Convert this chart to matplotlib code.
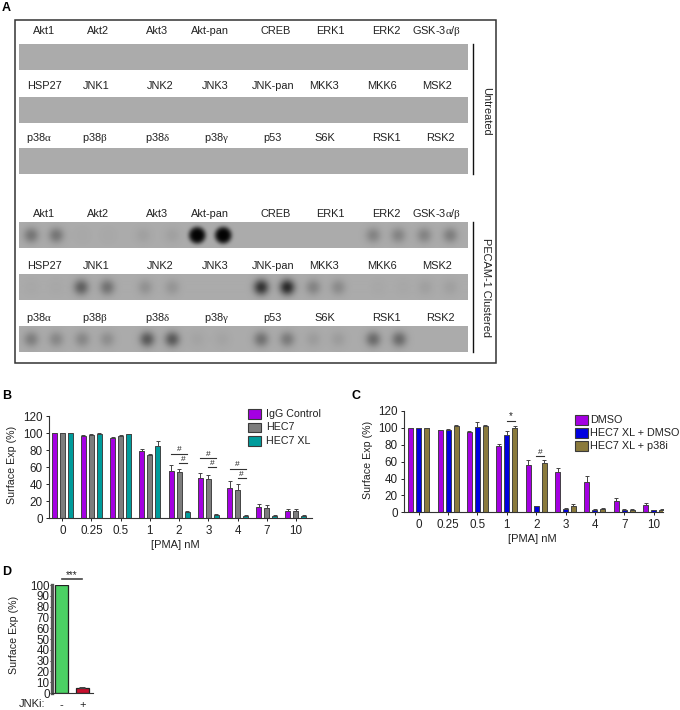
import numpy as np
import matplotlib
matplotlib.use('Agg')
import matplotlib.pyplot as plt
from matplotlib.patches import Rectangle

plt.rcParams['font.family'] = ['Liberation Sans', 'DejaVu Sans']
# greek letters of the blot labels are serif in the original
plt.rcParams['mathtext.fontset'] = 'custom'
plt.rcParams['mathtext.cal'] = 'Liberation Serif'
plt.rcParams['mathtext.rm'] = 'Liberation Sans'

row_labels = [
    ['Akt1', 'Akt2', 'Akt3', 'Akt-pan', 'CREB', 'ERK1', 'ERK2', r'GSK-3$\mathcal{\alpha}$/$\mathcal{\beta}$'],
    ['HSP27', 'JNK1', 'JNK2', 'JNK3', 'JNK-pan', 'MKK3', 'MKK6', 'MSK2'],
    [r'p38$\mathcal{\alpha}$', r'p38$\mathcal{\beta}$', r'p38$\mathcal{\delta}$', r'p38$\mathcal{\gamma}$',
     'p53', 'S6K', 'RSK1', 'RSK2'],
]

# spot darkness, PECAM-1 clustered membrane, two dots per target
clustered_row1 = [.3, .3, .02, .02, .06, .06, 1.0, 1.0, 0, 0, 0, 0, .22, .22, .22, .25]
clustered_row2 = [.02, .02, .42, .32, .14, .12, 0, 0, .68, .74, .22, .18, .02, .02, .06, .06]
clustered_row3 = [.25, .2, .2, .16, .46, .46, .04, .04, .32, .27, .08, .08, .36, .36, 0, 0]

doses = ['0', '0.25', '0.5', '1', '2', '3', '4', '7', '10']

b_igg = [100, 97, 95, 79, 56, 48, 36, 13, 9]
b_igg_err = [0, 1, 1, 2.5, 6.5, 5, 7.5, 3.5, 1.5]
b_hec7 = [100, 98, 97, 74, 54, 46, 33, 12, 9]
b_hec7_err = [0, 1, 1, 1.5, 4, 5, 7, 3.5, 1.5]
b_xl = [100, 99, 99, 85, 7, 4, 3, 3, 3]
b_xl_err = [0, .8, .7, 6, 1.5, 1, .8, .7, .7]

c_dmso = [100, 97, 95, 79, 56, 48, 36, 13, 9]
c_dmso_err = [0, .8, 1, 2.5, 6.5, 5, 7, 3.5, 1.5]
c_xl = [100, 97, 101, 92, 7, 4, 3, 3, 2.5]
c_xl_err = [0, 1.5, 6, 4, 1, .8, 1, .8, .6]
c_p38 = [100, 102, 102, 100, 58, 8, 4, 3, 3]
c_p38_err = [0, 1, 1.5, 2, 4, 1.5, 1, .7, .6]

d_labels = ['-', '+']
d_vals = [100, 5]
d_err = [0, .8]

W, H = 680, 710
TXT = '#222222'
EDGE = '#3a3a3a'

label_x = [[44, 98, 157, 210, 276, 330, 386, 437],
           [44, 96, 160, 215, 273, 324, 382, 437],
           [39, 95, 158, 216, 272, 325, 386, 440]]
spot_x = [[31, 56, 82, 108, 143, 172, 197, 223, 250, 276, 305, 335, 373, 398, 424, 450],
          [31, 56, 81, 107, 145, 172, 197, 223, 261, 287, 313, 338, 378, 403, 425, 450],
          [31, 56, 82, 107, 147, 172, 197, 222, 261, 287, 313, 338, 373, 399, 425, 450]]

fig = plt.figure(figsize=(W / 100, H / 100), dpi=100, facecolor='white')


def px_axes(x0, x1, y_top, y_bottom):
    return fig.add_axes([x0 / W, 1 - y_bottom / H, (x1 - x0) / W, (y_bottom - y_top) / H])


page = fig.add_axes([0, 0, 1, 1], zorder=5)
page.patch.set_alpha(0)
page.axis('off')


def blot(top, bottom, xs=None, dark=None):
    xx, yy = np.meshgrid(np.arange(19, 468, .5), np.arange(top, bottom, .5))
    img = np.full(xx.shape, 0.67)
    if dark is not None:
        mid = (top + bottom) / 2
        for x, d in zip(xs, dark):
            r = np.hypot(xx - x, yy - mid)
            if d > .9:
                img *= 1 - .98 * np.exp(-(r / 8.5) ** 4)
            else:
                img *= 1 - d * np.exp(-(r / 7.5) ** 2.2)
    page.imshow(img, cmap='gray', vmin=0, vmax=1, extent=(19, 468, bottom, top),
                aspect='auto', interpolation='bilinear')


for i, (top, bottom) in enumerate([(44, 70), (97, 123), (148, 174)]):
    blot(top, bottom)
for i, (top, bottom, dark) in enumerate([(222, 248, clustered_row1),
                                         (275, 300.5, clustered_row2),
                                         (326, 352, clustered_row3)]):
    blot(top, bottom, spot_x[i], dark)

for ys in ([31, 86, 138], [214, 266, 318]):
    for y, names, xs in zip(ys, row_labels, label_x):
        for name, x in zip(names, xs):
            page.text(x, y, name, fontsize=7.9, color=TXT, ha='center', va='center')

page.add_patch(Rectangle((15, 20), 481, 343, fill=False, ec='#333333', lw=1.1))
page.plot([473, 473], [44, 174], color='#111111', lw=1)
page.plot([473, 473], [222, 352], color='#111111', lw=1)
page.text(486, 111, 'Untreated', rotation=270, fontsize=7.9, color=TXT, ha='center', va='center')
page.text(486, 288, 'PECAM-1 Clustered', rotation=270, fontsize=7.9, color=TXT, ha='center', va='center')

page.text(2, 8, 'A', fontsize=9, fontweight='bold', ha='left', va='center')
page.text(2, 396, 'B', fontsize=9, fontweight='bold', ha='left', va='center')
page.text(352, 396, 'C', fontsize=9, fontweight='bold', ha='left', va='center')
page.text(2, 572, 'D', fontsize=9, fontweight='bold', ha='left', va='center')


def style_axes(ax):
    ax.spines['top'].set_visible(False)
    ax.spines['right'].set_visible(False)
    ax.spines['left'].set_color('#333333')
    ax.spines['bottom'].set_color('#333333')
    ax.tick_params(colors=TXT, labelsize=8.4, length=2.5, width=.7, pad=2)
    ax.patch.set_alpha(0)


def grouped(ax, series, errs, colors, step):
    for k, (vals, err, col) in enumerate(zip(series, errs, colors)):
        x = np.arange(len(vals)) + (k - 1) * step
        ax.bar(x, vals, width=.17, color=col, edgecolor=EDGE, linewidth=.65)
        ax.errorbar(x, vals, yerr=[np.zeros(len(err)), err], fmt='none', ecolor='#444444',
                    elinewidth=.7, capsize=1.2, capthick=.7)
    ax.set_xticks(np.arange(len(doses)))
    ax.set_xticklabels(doses)
    ax.set_ylim(0, 120)
    ax.set_yticks(range(0, 121, 20))
    style_axes(ax)


def sig(ax, x0, x1, y, mark, size=6):
    ax.plot([x0, x1], [y, y], color='#333333', lw=.8, clip_on=False)
    ax.text((x0 + x1) / 2, y + .5, mark, fontsize=size, color=TXT, ha='center', va='bottom', clip_on=False)


def legend_boxes(x, ys, names, colors, text_x, size):
    for y, name, col in zip(ys, names, colors):
        page.add_patch(Rectangle((x, y), 12.5, 9.5, fc=col, ec=EDGE, lw=.8))
        page.text(text_x, y + 4.8, name, fontsize=size, color=TXT, ha='left', va='center')


# panel B
ax_b = px_axes(49, 312, 416.3, 518.3)
step_b = 8 / 29.2
grouped(ax_b, [b_igg, b_hec7, b_xl], [b_igg_err, b_hec7_err, b_xl_err],
        ['#a400e2', '#7d7d7d', '#009c9c'], step_b)
ax_b.set_xlim(-.455, 8.55)
sig(ax_b, 4 - step_b, 4 + step_b, 76, '#')
sig(ax_b, 4, 4 + step_b, 64.7, '#')
sig(ax_b, 5 - step_b, 5 + step_b, 71, '#')
sig(ax_b, 5, 5 + step_b, 60, '#')
sig(ax_b, 6 - step_b, 6 + step_b, 58.4, '#')
sig(ax_b, 6, 6 + step_b, 47.5, '#')
page.text(12, 465, 'Surface Exp (%)', rotation=90, fontsize=7.7, color=TXT, ha='center', va='center')
page.text(175, 545, '[PMA] nM', fontsize=8, color=TXT, ha='center', va='center')
legend_boxes(248, [409, 422.5, 436], ['IgG Control', 'HEC7', 'HEC7 XL'],
             ['#a400e2', '#7d7d7d', '#009c9c'], 266, 7.7)

# panel C
ax_c = px_axes(404, 663, 411, 512.3)
step_c = 8 / 29.4
grouped(ax_c, [c_dmso, c_xl, c_p38], [c_dmso_err, c_xl_err, c_p38_err],
        ['#a400e2', '#0000e0', '#8a7a3c'], step_c)
ax_c.set_xlim(-.5, 8.32)
sig(ax_c, 3, 3 + step_c, 108, '*', 7)
sig(ax_c, 4, 4 + step_c, 66.7, '#')
page.text(368, 460, 'Surface Exp (%)', rotation=90, fontsize=7.7, color=TXT, ha='center', va='center')
page.text(532, 539, '[PMA] nM', fontsize=8, color=TXT, ha='center', va='center')
legend_boxes(575, [415, 428, 441], ['DMSO', 'HEC7 XL + DMSO', 'HEC7 XL + p38i'],
             ['#a400e2', '#0000e0', '#8a7a3c'], 590, 7.8)

# panel D
ax_d = px_axes(52, 93, 585, 693)
ax_d.bar([0, 1], d_vals, width=.6, color=['#4cd164', '#c8102e'], edgecolor='#222222', linewidth=.9)
ax_d.errorbar([1], d_vals[1:], yerr=[[0], d_err[1:]], fmt='none', ecolor='#444444',
              elinewidth=.7, capsize=2, capthick=.7)
ax_d.set_xlim(-.44, 1.51)
ax_d.set_ylim(0, 100)
ax_d.set_yticks(range(0, 101, 10))
ax_d.set_xticks([0, 1])
ax_d.set_xticklabels(d_labels)
style_axes(ax_d)
ax_d.spines['left'].set_linewidth(2.4)
ax_d.spines['left'].set_color('#555555')
ax_d.tick_params(axis='x', pad=5, length=0, labelsize=8)
ax_d.tick_params(axis='y', pad=.5, length=1.2)
page.plot([62, 82], [579, 579], color='#444444', lw=1.2)
page.text(72, 575.5, '***', fontsize=7, color=TXT, ha='center', va='center')
page.text(14, 635, 'Surface Exp (%)', rotation=90, fontsize=7.7, color=TXT, ha='center', va='center')
page.text(32, 704, 'JNKi:', fontsize=8, color=TXT, ha='center', va='center')

page.set_xlim(0, W)
page.set_ylim(H, 0)

fig.savefig('out.png', dpi=100, facecolor='white')
